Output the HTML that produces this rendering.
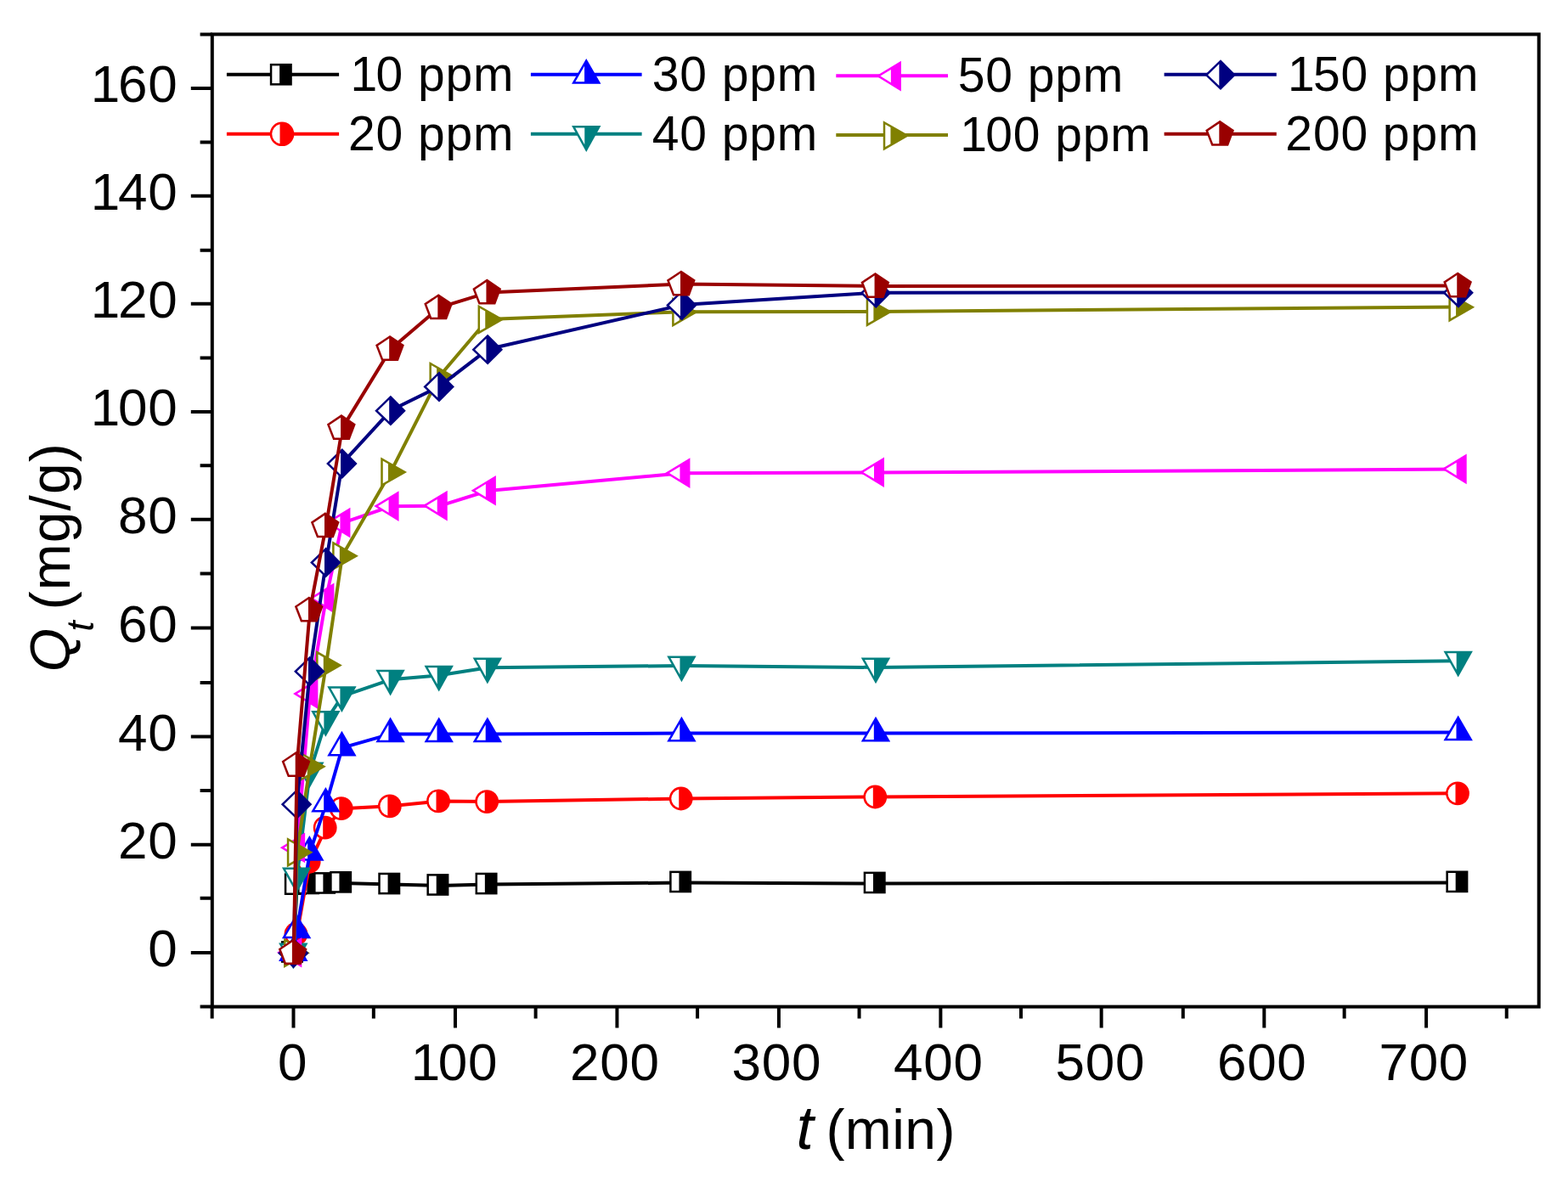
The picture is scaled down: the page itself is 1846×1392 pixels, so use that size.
<!DOCTYPE html>
<html lang="en"><head><meta charset="utf-8"><title>Qt vs t adsorption kinetics</title>
<style>html,body{margin:0;padding:0;background:#fff}body{width:1846px;height:1392px;overflow:hidden}svg{display:block}text{font-family:"Liberation Sans",sans-serif;fill:#000}.tk{font-size:62px;letter-spacing:0.7px}.lg{font-size:57px;letter-spacing:0.9px}.ti{font-size:66px}.it{font-style:italic}</style></head><body>
<svg width="1846" height="1392" viewBox="0 0 1846 1392" role="img" aria-label="Adsorption kinetics: Qt versus t">
<rect width="1846" height="1392" fill="#fff"/>
<g stroke-linejoin="round" stroke-linecap="butt">
<g><polyline points="345.8,1122 349.61,1042.2 364.85,1041.5 383.89,1041 402.94,1039.9 460.08,1041.6 517.22,1043 574.36,1041.6 802.93,1039.5 1031.49,1040.5 1717.18,1039.4" fill="none" stroke="#000000" stroke-width="4"/>
<polygon points="331,1108.1 357,1108.1 357,1133.8 331,1133.8" fill="#000000"/><polygon points="333.5,1110.6 342.3,1110.6 342.3,1131.3 333.5,1131.3" fill="#fff"/>
<polygon points="334.81,1028.3 360.81,1028.3 360.81,1054 334.81,1054" fill="#000000"/><polygon points="337.31,1030.8 346.11,1030.8 346.11,1051.5 337.31,1051.5" fill="#fff"/>
<polygon points="350.05,1027.6 376.05,1027.6 376.05,1053.3 350.05,1053.3" fill="#000000"/><polygon points="352.55,1030.1 361.35,1030.1 361.35,1050.8 352.55,1050.8" fill="#fff"/>
<polygon points="369.09,1027.1 395.09,1027.1 395.09,1052.8 369.09,1052.8" fill="#000000"/><polygon points="371.59,1029.6 380.39,1029.6 380.39,1050.3 371.59,1050.3" fill="#fff"/>
<polygon points="388.14,1026 414.14,1026 414.14,1051.7 388.14,1051.7" fill="#000000"/><polygon points="390.64,1028.5 399.44,1028.5 399.44,1049.2 390.64,1049.2" fill="#fff"/>
<polygon points="445.28,1027.7 471.28,1027.7 471.28,1053.4 445.28,1053.4" fill="#000000"/><polygon points="447.78,1030.2 456.58,1030.2 456.58,1050.9 447.78,1050.9" fill="#fff"/>
<polygon points="502.42,1029.1 528.42,1029.1 528.42,1054.8 502.42,1054.8" fill="#000000"/><polygon points="504.92,1031.6 513.72,1031.6 513.72,1052.3 504.92,1052.3" fill="#fff"/>
<polygon points="559.56,1027.7 585.56,1027.7 585.56,1053.4 559.56,1053.4" fill="#000000"/><polygon points="562.06,1030.2 570.86,1030.2 570.86,1050.9 562.06,1050.9" fill="#fff"/>
<polygon points="788.13,1025.6 814.13,1025.6 814.13,1051.3 788.13,1051.3" fill="#000000"/><polygon points="790.63,1028.1 799.43,1028.1 799.43,1048.8 790.63,1048.8" fill="#fff"/>
<polygon points="1016.69,1026.6 1042.69,1026.6 1042.69,1052.3 1016.69,1052.3" fill="#000000"/><polygon points="1019.19,1029.1 1027.99,1029.1 1027.99,1049.8 1019.19,1049.8" fill="#fff"/>
<polygon points="1702.38,1025.5 1728.38,1025.5 1728.38,1051.2 1702.38,1051.2" fill="#000000"/><polygon points="1704.88,1028 1713.68,1028 1713.68,1048.7 1704.88,1048.7" fill="#fff"/>
</g>
<g><polyline points="345.8,1122 349.61,1100 364.85,1015 383.89,974.7 402.94,952.2 460.08,949.3 517.22,943.4 574.36,944.1 802.93,940.5 1031.49,938.5 1717.18,934.3" fill="none" stroke="#ff0000" stroke-width="4"/>
<circle cx="344.6" cy="1122" r="13.9" fill="#ff0000"/><path d="M342.1 1110.88A11.4 11.4 0 0 0 342.1 1133.12Z" fill="#fff"/>
<circle cx="348.41" cy="1100" r="13.9" fill="#ff0000"/><path d="M345.91 1088.88A11.4 11.4 0 0 0 345.91 1111.12Z" fill="#fff"/>
<circle cx="363.65" cy="1015" r="13.9" fill="#ff0000"/><path d="M361.15 1003.88A11.4 11.4 0 0 0 361.15 1026.12Z" fill="#fff"/>
<circle cx="382.69" cy="974.7" r="13.9" fill="#ff0000"/><path d="M380.19 963.58A11.4 11.4 0 0 0 380.19 985.82Z" fill="#fff"/>
<circle cx="401.74" cy="952.2" r="13.9" fill="#ff0000"/><path d="M399.24 941.08A11.4 11.4 0 0 0 399.24 963.32Z" fill="#fff"/>
<circle cx="458.88" cy="949.3" r="13.9" fill="#ff0000"/><path d="M456.38 938.18A11.4 11.4 0 0 0 456.38 960.42Z" fill="#fff"/>
<circle cx="516.02" cy="943.4" r="13.9" fill="#ff0000"/><path d="M513.52 932.28A11.4 11.4 0 0 0 513.52 954.52Z" fill="#fff"/>
<circle cx="573.16" cy="944.1" r="13.9" fill="#ff0000"/><path d="M570.66 932.98A11.4 11.4 0 0 0 570.66 955.22Z" fill="#fff"/>
<circle cx="801.73" cy="940.5" r="13.9" fill="#ff0000"/><path d="M799.23 929.38A11.4 11.4 0 0 0 799.23 951.62Z" fill="#fff"/>
<circle cx="1030.29" cy="938.5" r="13.9" fill="#ff0000"/><path d="M1027.79 927.38A11.4 11.4 0 0 0 1027.79 949.62Z" fill="#fff"/>
<circle cx="1715.98" cy="934.3" r="13.9" fill="#ff0000"/><path d="M1713.48 923.18A11.4 11.4 0 0 0 1713.48 945.42Z" fill="#fff"/>
</g>
<g><polyline points="345.8,1122 349.61,1095.4 364.85,1003.8 383.89,946.7 402.94,880.6 460.08,864.4 517.22,864.4 574.36,864.4 802.93,863.6 1031.49,863.6 1717.18,862.4" fill="none" stroke="#0000ff" stroke-width="4"/>
<polygon points="345.3,1102.2 362.5,1131.9 328.1,1131.9" fill="#0000ff"/><polygon points="343.1,1129.4 332.44,1129.4 343.1,1110.99" fill="#fff"/>
<polygon points="349.11,1075.6 366.31,1105.3 331.91,1105.3" fill="#0000ff"/><polygon points="346.91,1102.8 336.25,1102.8 346.91,1084.39" fill="#fff"/>
<polygon points="364.35,984 381.55,1013.7 347.15,1013.7" fill="#0000ff"/><polygon points="362.15,1011.2 351.48,1011.2 362.15,992.79" fill="#fff"/>
<polygon points="383.39,926.9 400.59,956.6 366.19,956.6" fill="#0000ff"/><polygon points="381.19,954.1 370.53,954.1 381.19,935.69" fill="#fff"/>
<polygon points="402.44,860.8 419.64,890.5 385.24,890.5" fill="#0000ff"/><polygon points="400.24,888 389.58,888 400.24,869.59" fill="#fff"/>
<polygon points="459.58,844.6 476.78,874.3 442.38,874.3" fill="#0000ff"/><polygon points="457.38,871.8 446.72,871.8 457.38,853.39" fill="#fff"/>
<polygon points="516.72,844.6 533.92,874.3 499.52,874.3" fill="#0000ff"/><polygon points="514.52,871.8 503.86,871.8 514.52,853.39" fill="#fff"/>
<polygon points="573.86,844.6 591.06,874.3 556.66,874.3" fill="#0000ff"/><polygon points="571.66,871.8 561,871.8 571.66,853.39" fill="#fff"/>
<polygon points="802.43,843.8 819.63,873.5 785.23,873.5" fill="#0000ff"/><polygon points="800.23,871 789.56,871 800.23,852.59" fill="#fff"/>
<polygon points="1030.99,843.8 1048.19,873.5 1013.79,873.5" fill="#0000ff"/><polygon points="1028.79,871 1018.13,871 1028.79,852.59" fill="#fff"/>
<polygon points="1716.68,842.6 1733.88,872.3 1699.48,872.3" fill="#0000ff"/><polygon points="1714.48,869.8 1703.82,869.8 1714.48,851.39" fill="#fff"/>
</g>
<g><polyline points="345.8,1122 349.61,1033 364.85,909 383.89,848.5 402.94,819.8 460.08,800.3 517.22,795.3 574.36,786.2 802.93,784 1031.49,786 1717.18,778.3" fill="none" stroke="#008080" stroke-width="4"/>
<polygon points="328.1,1110.4 362.5,1110.4 345.3,1141.3" fill="#008080"/><polygon points="332.35,1112.9 343.3,1112.9 343.3,1132.57" fill="#fff"/>
<polygon points="331.91,1021.4 366.31,1021.4 349.11,1052.3" fill="#008080"/><polygon points="336.16,1023.9 347.11,1023.9 347.11,1043.57" fill="#fff"/>
<polygon points="347.15,897.4 381.55,897.4 364.35,928.3" fill="#008080"/><polygon points="351.4,899.9 362.35,899.9 362.35,919.57" fill="#fff"/>
<polygon points="366.19,836.9 400.59,836.9 383.39,867.8" fill="#008080"/><polygon points="370.45,839.4 381.39,839.4 381.39,859.07" fill="#fff"/>
<polygon points="385.24,808.2 419.64,808.2 402.44,839.1" fill="#008080"/><polygon points="389.49,810.7 400.44,810.7 400.44,830.37" fill="#fff"/>
<polygon points="442.38,788.7 476.78,788.7 459.58,819.6" fill="#008080"/><polygon points="446.63,791.2 457.58,791.2 457.58,810.87" fill="#fff"/>
<polygon points="499.52,783.7 533.92,783.7 516.72,814.6" fill="#008080"/><polygon points="503.78,786.2 514.72,786.2 514.72,805.87" fill="#fff"/>
<polygon points="556.66,774.6 591.06,774.6 573.86,805.5" fill="#008080"/><polygon points="560.92,777.1 571.86,777.1 571.86,796.77" fill="#fff"/>
<polygon points="785.23,772.4 819.63,772.4 802.43,803.3" fill="#008080"/><polygon points="789.48,774.9 800.43,774.9 800.43,794.57" fill="#fff"/>
<polygon points="1013.79,774.4 1048.19,774.4 1030.99,805.3" fill="#008080"/><polygon points="1018.04,776.9 1028.99,776.9 1028.99,796.57" fill="#fff"/>
<polygon points="1699.48,766.7 1733.88,766.7 1716.68,797.6" fill="#008080"/><polygon points="1703.74,769.2 1714.68,769.2 1714.68,788.87" fill="#fff"/>
</g>
<g><polyline points="345.8,1122 349.61,998.6 364.85,817.3 383.89,704.7 402.94,615.8 460.08,596.3 517.22,595.8 574.36,578 802.93,557.3 1031.49,556.5 1717.18,552.6" fill="none" stroke="#ff00ff" stroke-width="4"/>
<polygon points="326,1121.7 355.3,1103.9 355.3,1139.6" fill="#ff00ff"/><polygon points="330.81,1121.71 343.3,1114.12 343.3,1129.34" fill="#fff"/>
<polygon points="329.81,998.3 359.11,980.5 359.11,1016.2" fill="#ff00ff"/><polygon points="334.61,998.31 347.11,990.72 347.11,1005.94" fill="#fff"/>
<polygon points="345.05,817 374.35,799.2 374.35,834.9" fill="#ff00ff"/><polygon points="349.85,817.01 362.35,809.42 362.35,824.64" fill="#fff"/>
<polygon points="364.09,704.4 393.39,686.6 393.39,722.3" fill="#ff00ff"/><polygon points="368.9,704.41 381.39,696.82 381.39,712.04" fill="#fff"/>
<polygon points="383.14,615.5 412.44,597.7 412.44,633.4" fill="#ff00ff"/><polygon points="387.95,615.51 400.44,607.92 400.44,623.14" fill="#fff"/>
<polygon points="440.28,596 469.58,578.2 469.58,613.9" fill="#ff00ff"/><polygon points="445.09,596.01 457.58,588.42 457.58,603.64" fill="#fff"/>
<polygon points="497.42,595.5 526.72,577.7 526.72,613.4" fill="#ff00ff"/><polygon points="502.23,595.51 514.72,587.92 514.72,603.14" fill="#fff"/>
<polygon points="554.56,577.7 583.86,559.9 583.86,595.6" fill="#ff00ff"/><polygon points="559.37,577.71 571.86,570.12 571.86,585.34" fill="#fff"/>
<polygon points="783.13,557 812.43,539.2 812.43,574.9" fill="#ff00ff"/><polygon points="787.93,557.01 800.43,549.42 800.43,564.64" fill="#fff"/>
<polygon points="1011.69,556.2 1040.99,538.4 1040.99,574.1" fill="#ff00ff"/><polygon points="1016.5,556.21 1028.99,548.62 1028.99,563.84" fill="#fff"/>
<polygon points="1697.38,552.3 1726.68,534.5 1726.68,570.2" fill="#ff00ff"/><polygon points="1702.19,552.31 1714.68,544.72 1714.68,559.94" fill="#fff"/>
</g>
<g><polyline points="345.8,1122 349.61,1003.5 364.85,902.4 383.89,783.3 402.94,654.4 460.08,555.7 517.22,443.2 574.36,376 802.93,367.3 1031.49,367 1717.18,361.5" fill="none" stroke="#808000" stroke-width="4"/>
<polygon points="334,1104.8 364.8,1122.3 334,1139.9" fill="#808000"/><polygon points="336.5,1109.1 342.7,1112.62 342.7,1132.05 336.5,1135.59" fill="#fff"/>
<polygon points="337.81,986.3 368.61,1003.8 337.81,1021.4" fill="#808000"/><polygon points="340.31,990.6 346.51,994.12 346.51,1013.55 340.31,1017.09" fill="#fff"/>
<polygon points="353.05,885.2 383.85,902.7 353.05,920.3" fill="#808000"/><polygon points="355.55,889.5 361.75,893.02 361.75,912.45 355.55,915.99" fill="#fff"/>
<polygon points="372.09,766.1 402.89,783.6 372.09,801.2" fill="#808000"/><polygon points="374.59,770.4 380.79,773.92 380.79,793.35 374.59,796.89" fill="#fff"/>
<polygon points="391.14,637.2 421.94,654.7 391.14,672.3" fill="#808000"/><polygon points="393.64,641.5 399.84,645.02 399.84,664.45 393.64,667.99" fill="#fff"/>
<polygon points="448.28,538.5 479.08,556 448.28,573.6" fill="#808000"/><polygon points="450.78,542.8 456.98,546.32 456.98,565.75 450.78,569.29" fill="#fff"/>
<polygon points="505.42,426 536.22,443.5 505.42,461.1" fill="#808000"/><polygon points="507.92,430.3 514.12,433.82 514.12,453.25 507.92,456.79" fill="#fff"/>
<polygon points="562.56,358.8 593.36,376.3 562.56,393.9" fill="#808000"/><polygon points="565.06,363.1 571.26,366.62 571.26,386.05 565.06,389.59" fill="#fff"/>
<polygon points="791.13,350.1 821.93,367.6 791.13,385.2" fill="#808000"/><polygon points="793.63,354.4 799.83,357.92 799.83,377.35 793.63,380.89" fill="#fff"/>
<polygon points="1019.69,349.8 1050.49,367.3 1019.69,384.9" fill="#808000"/><polygon points="1022.19,354.1 1028.39,357.62 1028.39,377.05 1022.19,380.59" fill="#fff"/>
<polygon points="1705.38,344.3 1736.18,361.8 1705.38,379.4" fill="#808000"/><polygon points="1707.88,348.6 1714.08,352.12 1714.08,371.55 1707.88,375.09" fill="#fff"/>
</g>
<g><polyline points="345.8,1122 349.61,946.8 364.85,790.3 383.89,662 402.94,545.7 460.08,483.3 517.22,455.1 574.36,411.3 802.93,359.1 1031.49,344.7 1717.18,344.4" fill="none" stroke="#000080" stroke-width="4"/>
<polygon points="345.6,1104.4 363.5,1122.4 345.6,1140.3 327,1122.4" fill="#000080"/><polygon points="343.9,1135.19 330.6,1122.39 343.9,1109.52" fill="#fff"/>
<polygon points="349.41,929.2 367.31,947.2 349.41,965.1 330.81,947.2" fill="#000080"/><polygon points="347.71,959.99 334.41,947.19 347.71,934.32" fill="#fff"/>
<polygon points="364.65,772.7 382.55,790.7 364.65,808.6 346.05,790.7" fill="#000080"/><polygon points="362.95,803.49 349.65,790.69 362.95,777.82" fill="#fff"/>
<polygon points="383.69,644.4 401.59,662.4 383.69,680.3 365.09,662.4" fill="#000080"/><polygon points="381.99,675.19 368.69,662.39 381.99,649.52" fill="#fff"/>
<polygon points="402.74,528.1 420.64,546.1 402.74,564 384.14,546.1" fill="#000080"/><polygon points="401.04,558.89 387.74,546.09 401.04,533.22" fill="#fff"/>
<polygon points="459.88,465.7 477.78,483.7 459.88,501.6 441.28,483.7" fill="#000080"/><polygon points="458.18,496.49 444.88,483.69 458.18,470.82" fill="#fff"/>
<polygon points="517.02,437.5 534.92,455.5 517.02,473.4 498.42,455.5" fill="#000080"/><polygon points="515.32,468.29 502.02,455.49 515.32,442.62" fill="#fff"/>
<polygon points="574.16,393.7 592.06,411.7 574.16,429.6 555.56,411.7" fill="#000080"/><polygon points="572.46,424.49 559.16,411.69 572.46,398.82" fill="#fff"/>
<polygon points="802.73,341.5 820.63,359.5 802.73,377.4 784.13,359.5" fill="#000080"/><polygon points="801.03,372.29 787.73,359.49 801.03,346.62" fill="#fff"/>
<polygon points="1031.29,327.1 1049.19,345.1 1031.29,363 1012.69,345.1" fill="#000080"/><polygon points="1029.59,357.89 1016.29,345.09 1029.59,332.22" fill="#fff"/>
<polygon points="1716.98,326.8 1734.88,344.8 1716.98,362.7 1698.38,344.8" fill="#000080"/><polygon points="1715.28,357.59 1701.98,344.79 1715.28,331.92" fill="#fff"/>
</g>
<g><polyline points="345.8,1122 349.61,901 364.85,718.5 383.89,619.3 402.94,504.1 460.08,410.9 517.22,362.2 574.36,344.6 802.93,334.4 1031.49,336.9 1717.18,336.4" fill="none" stroke="#990000" stroke-width="4"/>
<polygon points="344.8,1106 361.6,1117.4 354.6,1136 335,1136 327.8,1117.4" fill="#990000"/><polygon points="343.9,1133.5 336.71,1133.5 330.85,1118.36 343.9,1109.61" fill="#fff"/>
<polygon points="348.61,885 365.41,896.4 358.41,915 338.81,915 331.61,896.4" fill="#990000"/><polygon points="347.71,912.5 340.52,912.5 334.66,897.36 347.71,888.61" fill="#fff"/>
<polygon points="363.85,702.5 380.65,713.9 373.65,732.5 354.05,732.5 346.85,713.9" fill="#990000"/><polygon points="362.95,730 355.76,730 349.9,714.86 362.95,706.11" fill="#fff"/>
<polygon points="382.89,603.3 399.69,614.7 392.69,633.3 373.09,633.3 365.89,614.7" fill="#990000"/><polygon points="381.99,630.8 374.81,630.8 368.95,615.66 381.99,606.91" fill="#fff"/>
<polygon points="401.94,488.1 418.74,499.5 411.74,518.1 392.14,518.1 384.94,499.5" fill="#990000"/><polygon points="401.04,515.6 393.85,515.6 387.99,500.46 401.04,491.71" fill="#fff"/>
<polygon points="459.08,394.9 475.88,406.3 468.88,424.9 449.28,424.9 442.08,406.3" fill="#990000"/><polygon points="458.18,422.4 451,422.4 445.14,407.26 458.18,398.51" fill="#fff"/>
<polygon points="516.22,346.2 533.02,357.6 526.02,376.2 506.42,376.2 499.22,357.6" fill="#990000"/><polygon points="515.32,373.7 508.14,373.7 502.28,358.56 515.32,349.81" fill="#fff"/>
<polygon points="573.36,328.6 590.16,340 583.16,358.6 563.56,358.6 556.36,340" fill="#990000"/><polygon points="572.46,356.1 565.28,356.1 559.42,340.96 572.46,332.21" fill="#fff"/>
<polygon points="801.93,318.4 818.73,329.8 811.73,348.4 792.13,348.4 784.93,329.8" fill="#990000"/><polygon points="801.03,345.9 793.84,345.9 787.98,330.76 801.03,322.01" fill="#fff"/>
<polygon points="1030.49,320.9 1047.29,332.3 1040.29,350.9 1020.69,350.9 1013.49,332.3" fill="#990000"/><polygon points="1029.59,348.4 1022.41,348.4 1016.55,333.26 1029.59,324.51" fill="#fff"/>
<polygon points="1716.18,320.4 1732.98,331.8 1725.98,350.4 1706.38,350.4 1699.18,331.8" fill="#990000"/><polygon points="1715.28,347.9 1708.1,347.9 1702.24,332.76 1715.28,324.01" fill="#fff"/>
</g>
</g>
<g stroke="#000" stroke-width="4" fill="none" stroke-linecap="butt">
<rect x="249.8" y="40.4" width="1561.9" height="1145.2"/>
<path d="M249.8 1185.62H235.6M249.8 1122H224.8M249.8 1057.78H235.6M249.8 994.75H224.8M249.8 931.12H235.6M249.8 867.5H224.8M249.8 803.88H235.6M249.8 739.39H224.8M249.8 675.54H235.6M249.8 611.8H224.8M249.8 548.29H235.6M249.8 484.89H224.8M249.8 421.48H235.6M249.8 357.85H224.8M249.8 294.77H235.6M249.8 230.8H224.8M249.8 167.62H235.6M249.8 104H224.8M249.8 40.48H235.6M249.66 1185.6V1199.4M345.5 1185.6V1210.6M439.84 1185.6V1199.4M535.97 1185.6V1210.6M630.61 1185.6V1199.4M726.44 1185.6V1210.6M821.08 1185.6V1199.4M916.91 1185.6V1210.6M1011.54 1185.6V1199.4M1107.38 1185.6V1210.6M1202.01 1185.6V1199.4M1296.65 1185.6V1210.6M1392.79 1185.6V1199.4M1488.32 1185.6V1210.6M1582.65 1185.6V1199.4M1679.09 1185.6V1210.6M1773.73 1185.6V1199.4"/>
</g>
<g class="tk">
<text x="174.14" y="1138.4">0</text>
<text x="138.96" y="1011.15">20</text>
<text x="138.96" y="883.9">40</text>
<text x="138.96" y="755.79">60</text>
<text x="138.96" y="628.2">80</text>
<text x="103.78" y="501.29" dx="3 -3">100</text>
<text x="103.78" y="374.25" dx="3 -3">120</text>
<text x="103.78" y="247.2" dx="3 -3">140</text>
<text x="103.78" y="120.4" dx="3 -3">160</text>
<text x="327.04" y="1271.9">0</text>
<text x="480.65" y="1271.9" dx="3 -3">100</text>
<text x="671.12" y="1271.9">200</text>
<text x="861.59" y="1271.9">300</text>
<text x="1052.06" y="1271.9">400</text>
<text x="1242.53" y="1271.9">500</text>
<text x="1433" y="1271.9">600</text>
<text x="1623.47" y="1271.9">700</text>
</g>
<text class="ti" x="937.5" y="1352.6"><tspan class="it" font-size="73">t</tspan><tspan dx="-4.2" letter-spacing="0.45"> (min)</tspan></text>
<text class="ti" transform="translate(82 791.2) rotate(-90)"><tspan class="it">Q</tspan><tspan class="it" font-size="44" dx="-3.6" dy="27.6">t</tspan><tspan dy="-27.6" dx="-6.4" letter-spacing="1.05"> (mg/g)</tspan></text>
<g class="lg">
<line x1="266.9" y1="87.8" x2="399.1" y2="87.8" stroke="#000000" stroke-width="4"/>
<polygon points="317.8,74.9 343.8,74.9 343.8,100.6 317.8,100.6" fill="#000000"/><polygon points="320.3,77.4 329.1,77.4 329.1,98.1 320.3,98.1" fill="#fff"/>
<text x="409.94" y="107" dx="2.6 -2.6">10 ppm</text>
<line x1="266.9" y1="157.8" x2="399.1" y2="157.8" stroke="#ff0000" stroke-width="4"/>
<circle cx="332" cy="157.8" r="14.3" fill="#ff0000"/><path d="M329.5 146.27A11.8 11.8 0 0 0 329.5 169.33Z" fill="#fff"/>
<text x="409.94" y="177">20 ppm</text>
<line x1="624.9" y1="87.8" x2="755.6" y2="87.8" stroke="#0000ff" stroke-width="4"/>
<polygon points="690.25,69 707.45,98.7 673.05,98.7" fill="#0000ff"/><polygon points="688.05,96.2 677.39,96.2 688.05,77.79" fill="#fff"/>
<text x="767.74" y="107">30 ppm</text>
<line x1="624.9" y1="157.8" x2="755.6" y2="157.8" stroke="#008080" stroke-width="4"/>
<polygon points="673.05,148.1 707.45,148.1 690.25,179" fill="#008080"/><polygon points="677.3,150.6 688.25,150.6 688.25,170.27" fill="#fff"/>
<text x="767.74" y="177">40 ppm</text>
<line x1="984.3" y1="89.2" x2="1116" y2="89.2" stroke="#ff00ff" stroke-width="4"/>
<polygon points="1031.55,89.5 1060.85,71.7 1060.85,107.4" fill="#ff00ff"/><polygon points="1036.36,89.51 1048.85,81.92 1048.85,97.14" fill="#fff"/>
<text x="1127.74" y="108.3">50 ppm</text>
<line x1="984.3" y1="159" x2="1116" y2="159" stroke="#808000" stroke-width="4"/>
<polygon points="1039.75,142.3 1070.55,159.8 1039.75,177.4" fill="#808000"/><polygon points="1042.25,146.6 1048.45,150.12 1048.45,169.55 1042.25,173.09" fill="#fff"/>
<text x="1127.64" y="178.3" dx="2.6 -2.6">100 ppm</text>
<line x1="1370.6" y1="87.8" x2="1502.8" y2="87.8" stroke="#000080" stroke-width="4"/>
<polygon points="1437,70.2 1454.9,88.2 1437,106.1 1418.4,88.2" fill="#000080"/><polygon points="1435.3,100.99 1422,88.19 1435.3,75.32" fill="#fff"/>
<text x="1513.34" y="107" dx="2.6 -2.6">150 ppm</text>
<line x1="1370.6" y1="157.8" x2="1502.8" y2="157.8" stroke="#990000" stroke-width="4"/>
<polygon points="1436.2,141.8 1453,153.2 1446,171.8 1426.4,171.8 1419.2,153.2" fill="#990000"/><polygon points="1435.3,169.3 1428.11,169.3 1422.25,154.16 1435.3,145.41" fill="#fff"/>
<text x="1513.34" y="177">200 ppm</text>
</g>
</svg></body></html>
